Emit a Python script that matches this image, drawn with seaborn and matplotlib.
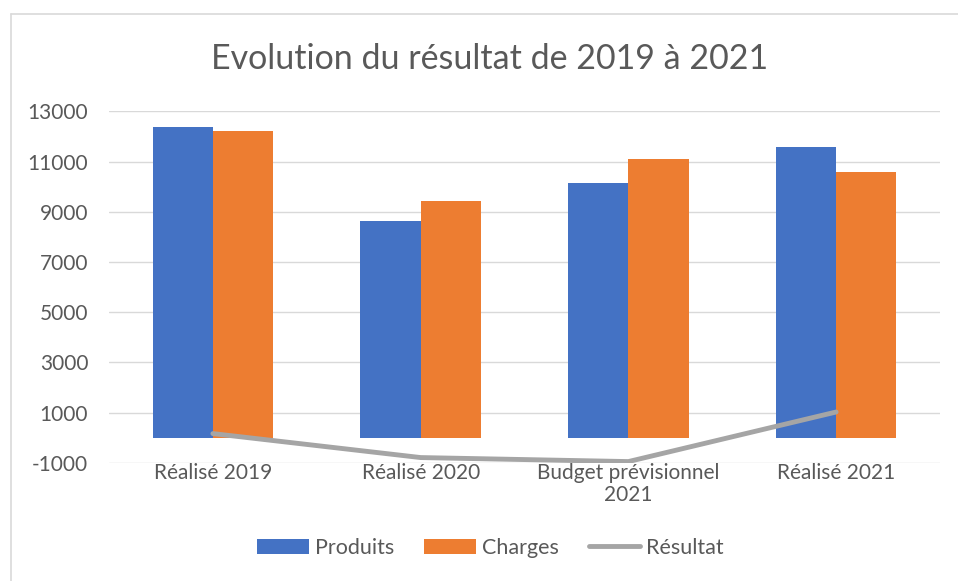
import matplotlib
matplotlib.use("Agg")
import matplotlib.pyplot as plt
import seaborn as sns
import pandas as pd
from matplotlib.patches import Patch
from matplotlib.lines import Line2D

categories = ["Réalisé 2019", "Réalisé 2020", "Budget prévisionnel\n2021", "Réalisé 2021"]
produits = [12390, 8645, 10160, 11595]
charges = [12230, 9440, 11115, 10575]
resultat = [160, -795, -955, 1020]
yticks = [-1000, 1000, 3000, 5000, 7000, 9000, 11000, 13000]

BLUE = "#4472C4"
ORANGE = "#ED7D31"
GREY = "#A5A5A5"
TXT = "#595959"

sns.set_theme(style="white")
plt.rcParams["font.family"] = ["Lato", "DejaVu Sans"]

df = pd.DataFrame({
    "cat": categories * 2,
    "val": produits + charges,
    "serie": ["Produits"] * 4 + ["Charges"] * 4,
})

fig = plt.figure(figsize=(9.58, 5.81), dpi=100)
ax = fig.add_axes([0.1138, 0.2036, 0.8674, 0.6048])

sns.barplot(data=df, x="cat", y="val", hue="serie", palette=[BLUE, ORANGE],
            width=0.58, gap=0, saturation=1, ax=ax, legend=False, zorder=2,
            linewidth=0, edgecolor="none")
sns.pointplot(x=categories, y=resultat, color=GREY, markers="", linestyles="-",
              linewidth=3.5, ax=ax, zorder=3)

ax.set_xlim(-0.5, 3.5)
ax.set_ylim(-1000, 13000)
ax.set_yticks(yticks)
ax.set_yticklabels([str(v) for v in yticks])
ax.grid(axis="y", color="#D9D9D9", linewidth=1.0, zorder=0)
ax.set_axisbelow(True)
for s in ax.spines.values():
    s.set_visible(False)
ax.tick_params(axis="both", length=0, labelsize=15, colors=TXT)
ax.tick_params(axis="y", pad=15)
ax.tick_params(axis="x", pad=0)
ax.set_xlabel("")
ax.set_ylabel("")
for lab in ax.get_xticklabels():
    lab.set_linespacing(1.15)

fig.text(0.511, 0.899, "Evolution du résultat de 2019 à 2021", ha="center", va="center",
         fontsize=24.5, color=TXT)

handles = [Patch(facecolor=BLUE, edgecolor="none"),
           Patch(facecolor=ORANGE, edgecolor="none"),
           Line2D([0], [0], color=GREY, linewidth=3.5)]
fig.legend(handles, ["Produits", "Charges", "Résultat"], loc="center",
           bbox_to_anchor=(0.512, 0.057), ncol=3, frameon=False,
           fontsize=15.5, labelcolor=TXT, handlelength=2.4, handleheight=0.7,
           handletextpad=0.28, columnspacing=1.4)

# outer border (left and top)
fig.add_artist(Line2D([0.0115, 0.0115], [0.0, 0.976], color="#D9D9D9", linewidth=1.2,
                      transform=fig.transFigure))
fig.add_artist(Line2D([0.0115, 1.0], [0.976, 0.976], color="#D9D9D9", linewidth=1.2,
                      transform=fig.transFigure))

fig.savefig("out.png", dpi=100)
